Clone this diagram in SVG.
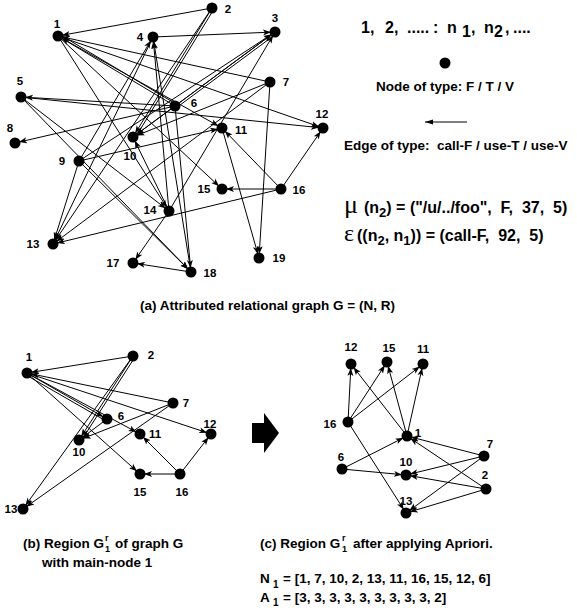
<svg xmlns="http://www.w3.org/2000/svg" width="577" height="608" viewBox="0 0 577 608">
<style>
.e{stroke:#000;stroke-width:1;fill:none;marker-end:url(#ah)}
.p{stroke:#000;stroke-width:1;fill:none}
.n{fill:#000}
.l{font-family:"Liberation Sans",Arial,sans-serif;font-weight:bold;font-size:11.5px;fill:#000;text-anchor:middle}
.t{font-family:"Liberation Sans",Arial,sans-serif;font-weight:bold;font-size:13.5px;fill:#000}
.h{font-family:"Liberation Sans",Arial,sans-serif;font-weight:bold;font-size:16px;fill:#000}
</style>
<defs>
<marker id="ah" markerUnits="userSpaceOnUse" markerWidth="14" markerHeight="8" refX="12" refY="4" orient="auto"><path d="M0,1 L8,4 L0,7 L2,4 z" fill="#000"/></marker>
<marker id="ah0" markerUnits="userSpaceOnUse" markerWidth="10" markerHeight="8" refX="8" refY="4" orient="auto"><path d="M0,1.5 L8,4 L0,6.5 z" fill="#000"/></marker>
</defs>
<rect width="577" height="608" fill="#fff"/>

<g id="connectors-a">
<line class="e" x1="212" y1="8" x2="58" y2="36"/>
<line class="e" x1="270" y1="82" x2="58" y2="36"/>
<line class="e" x1="175" y1="106" x2="58" y2="36"/>
<line class="p" x1="176" y1="104" x2="59" y2="34"/>
<line class="e" x1="58" y1="36" x2="323" y2="128"/>
<line class="e" x1="58" y1="36" x2="222" y2="128"/>
<line class="e" x1="58" y1="36" x2="222" y2="189"/>
<line class="e" x1="58" y1="36" x2="169" y2="211"/>
<line class="e" x1="153" y1="37" x2="275" y2="32"/>
<line class="e" x1="175" y1="106" x2="275" y2="32"/>
<line class="p" x1="176" y1="108" x2="276" y2="34"/>
<line class="e" x1="79" y1="161" x2="275" y2="32"/>
<line class="e" x1="169" y1="211" x2="275" y2="32"/>
<line class="e" x1="175" y1="106" x2="21" y2="97"/>
<line class="e" x1="21" y1="97" x2="323" y2="128"/>
<line class="e" x1="21" y1="97" x2="169" y2="211"/>
<line class="e" x1="21" y1="97" x2="191" y2="272"/>
<line class="e" x1="175" y1="106" x2="15" y2="143"/>
<line class="e" x1="79" y1="161" x2="153" y2="37"/>
<line class="e" x1="169" y1="211" x2="153" y2="37"/>
<line class="e" x1="191" y1="272" x2="153" y2="37"/>
<line class="e" x1="153" y1="37" x2="53" y2="244"/>
<line class="e" x1="212" y1="8" x2="133" y2="137"/>
<line class="p" x1="214" y1="9" x2="135" y2="138"/>
<line class="e" x1="275" y1="32" x2="133" y2="137"/>
<line class="e" x1="270" y1="82" x2="133" y2="137"/>
<line class="e" x1="175" y1="106" x2="133" y2="137"/>
<line class="e" x1="169" y1="211" x2="133" y2="137"/>
<line class="e" x1="79" y1="161" x2="222" y2="128"/>
<line class="e" x1="281" y1="189" x2="222" y2="128"/>
<line class="e" x1="222" y1="128" x2="259" y2="258"/>
<line class="e" x1="270" y1="82" x2="259" y2="258"/>
<line class="e" x1="281" y1="189" x2="323" y2="128"/>
<line class="e" x1="281" y1="189" x2="222" y2="189"/>
<line class="e" x1="281" y1="189" x2="53" y2="244"/>
<line class="e" x1="79" y1="161" x2="53" y2="244"/>
<line class="e" x1="212" y1="8" x2="53" y2="244"/>
<line class="e" x1="270" y1="82" x2="53" y2="244"/>
<line class="e" x1="169" y1="211" x2="133" y2="263"/>
<line class="e" x1="191" y1="272" x2="133" y2="263"/>
<line class="e" x1="79" y1="161" x2="191" y2="272"/>
<line class="e" x1="175" y1="106" x2="191" y2="272"/>
</g>

<g id="nodes-a">
<g id="a1"><circle class="n" cx="58" cy="36" r="5.5"/><text class="l" x="57" y="28">1</text></g>
<g id="a2"><circle class="n" cx="212" cy="8" r="5.5"/><text class="l" x="228" y="13">2</text></g>
<g id="a3"><circle class="n" cx="275" cy="32" r="5.5"/><text class="l" x="275" y="22">3</text></g>
<g id="a4"><circle class="n" cx="153" cy="37" r="5.5"/><text class="l" x="140" y="41">4</text></g>
<g id="a5"><circle class="n" cx="21" cy="97" r="5.5"/><text class="l" x="20" y="85">5</text></g>
<g id="a6"><circle class="n" cx="175" cy="106" r="5.5"/><text class="l" x="194" y="107">6</text></g>
<g id="a7"><circle class="n" cx="270" cy="82" r="5.5"/><text class="l" x="286" y="86">7</text></g>
<g id="a8"><circle class="n" cx="15" cy="143" r="5.5"/><text class="l" x="10" y="132">8</text></g>
<g id="a9"><circle class="n" cx="79" cy="161" r="5.5"/><text class="l" x="62" y="165">9</text></g>
<g id="a10"><circle class="n" cx="133" cy="137" r="5.5"/><text class="l" x="130" y="160">10</text></g>
<g id="a11"><circle class="n" cx="222" cy="128" r="5.5"/><text class="l" x="241" y="134">11</text></g>
<g id="a12"><circle class="n" cx="323" cy="128" r="5.5"/><text class="l" x="322" y="118">12</text></g>
<g id="a13"><circle class="n" cx="53" cy="244" r="5.5"/><text class="l" x="33" y="248">13</text></g>
<g id="a14"><circle class="n" cx="169" cy="211" r="5.5"/><text class="l" x="150" y="214">14</text></g>
<g id="a15"><circle class="n" cx="222" cy="189" r="5.5"/><text class="l" x="204" y="193">15</text></g>
<g id="a16"><circle class="n" cx="281" cy="189" r="5.5"/><text class="l" x="299" y="194">16</text></g>
<g id="a17"><circle class="n" cx="133" cy="263" r="5.5"/><text class="l" x="113" y="267">17</text></g>
<g id="a18"><circle class="n" cx="191" cy="272" r="5.5"/><text class="l" x="210" y="277">18</text></g>
<g id="a19"><circle class="n" cx="259" cy="258" r="5.5"/><text class="l" x="279" y="262">19</text></g>
</g>

<g id="legend">
<text class="h" y="33" font-size="15"><tspan x="361">1,</tspan><tspan x="385">2,</tspan><tspan x="407">.....</tspan><tspan x="433">:</tspan><tspan x="447">n</tspan><tspan x="462" y="37">1</tspan><tspan x="471" y="33">,</tspan><tspan x="484">n</tspan><tspan x="494" y="37">2</tspan><tspan x="505" y="33">,</tspan><tspan x="513">....</tspan></text>
<circle class="n" cx="445" cy="63" r="5.5"/>
<text class="t" x="376" y="90.5">Node of type: F / T / V</text>
<line class="p" x1="467" y1="122" x2="425" y2="122" marker-end="url(#ah0)"/>
<text class="t" x="344" y="150" xml:space="preserve">Edge of type:  call-F / use-T / use-V</text>
<text x="344" y="213" font-family="'Liberation Serif','DejaVu Serif',serif" font-size="26" fill="#000">μ</text>
<text class="h" x="364" y="213" xml:space="preserve">(n<tspan font-size="13" y="217">2</tspan><tspan y="213">) = ("/u/../foo",  F,  37,  5)</tspan></text>
<text x="344" y="241" font-family="'Liberation Serif','DejaVu Serif',serif" font-size="24" fill="#000">ε</text>
<text class="h" x="357" y="241" xml:space="preserve">((n<tspan font-size="13" y="245">2</tspan><tspan y="241">, n</tspan><tspan font-size="13" y="245">1</tspan><tspan y="241">)) = (call-F,  92,  5)</tspan></text>
<text class="t" x="140" y="310">(a) Attributed relational graph G = (N, R)</text>
</g>

<g id="connectors-b">
<line class="e" x1="133" y1="356" x2="27" y2="373"/>
<line class="e" x1="173" y1="403" x2="27" y2="373"/>
<line class="e" x1="27" y1="373" x2="211" y2="434"/>
<line class="e" x1="27" y1="373" x2="107" y2="419"/>
<line class="p" x1="26" y1="375" x2="106" y2="421"/>
<line class="e" x1="27" y1="373" x2="140" y2="434"/>
<line class="e" x1="27" y1="373" x2="140" y2="474"/>
<line class="e" x1="133" y1="356" x2="79" y2="440"/>
<line class="p" x1="135" y1="357" x2="81" y2="441"/>
<line class="e" x1="133" y1="356" x2="23" y2="509"/>
<line class="e" x1="173" y1="403" x2="79" y2="440"/>
<line class="e" x1="173" y1="403" x2="23" y2="509"/>
<line class="e" x1="107" y1="419" x2="79" y2="440"/>
<line class="e" x1="180" y1="474" x2="140" y2="474"/>
<line class="e" x1="180" y1="474" x2="140" y2="434"/>
<line class="e" x1="180" y1="474" x2="211" y2="434"/>
</g>

<g id="nodes-b">
<g id="b1"><circle class="n" cx="27" cy="373" r="5.5"/><text class="l" x="29" y="361">1</text></g>
<g id="b2"><circle class="n" cx="133" cy="356" r="5.5"/><text class="l" x="151" y="359">2</text></g>
<g id="b7"><circle class="n" cx="173" cy="403" r="5.5"/><text class="l" x="186" y="407">7</text></g>
<g id="b6"><circle class="n" cx="107" cy="419" r="5.5"/><text class="l" x="121" y="420">6</text></g>
<g id="b11"><circle class="n" cx="140" cy="434" r="5.5"/><text class="l" x="155" y="438">11</text></g>
<g id="b10"><circle class="n" cx="79" cy="440" r="5.5"/><text class="l" x="79" y="456">10</text></g>
<g id="b12"><circle class="n" cx="211" cy="434" r="5.5"/><text class="l" x="210" y="428">12</text></g>
<g id="b15"><circle class="n" cx="140" cy="474" r="5.5"/><text class="l" x="140" y="496">15</text></g>
<g id="b16"><circle class="n" cx="180" cy="474" r="5.5"/><text class="l" x="182" y="496">16</text></g>
<g id="b13"><circle class="n" cx="23" cy="509" r="5.5"/><text class="l" x="11" y="513">13</text></g>
</g>

<g id="bigarrow"><polygon points="252,423 264,423 264,413 279,433 264,453 264,443 252,443" fill="#000"/></g>

<g id="connectors-c">
<line class="e" x1="348" y1="422" x2="351" y2="364"/>
<line class="e" x1="348" y1="422" x2="387" y2="362"/>
<line class="e" x1="348" y1="422" x2="423" y2="364"/>
<line class="e" x1="348" y1="422" x2="406" y2="513"/>
<line class="e" x1="407" y1="436" x2="351" y2="364"/>
<line class="e" x1="407" y1="436" x2="387" y2="362"/>
<line class="e" x1="407" y1="436" x2="423" y2="364"/>
<line class="e" x1="342" y1="469" x2="407" y2="436"/>
<line class="e" x1="484" y1="456" x2="407" y2="436"/>
<line class="e" x1="486" y1="489" x2="407" y2="436"/>
<line class="e" x1="342" y1="469" x2="406" y2="475"/>
<line class="e" x1="484" y1="456" x2="406" y2="475"/>
<line class="e" x1="486" y1="489" x2="406" y2="475"/>
<line class="e" x1="484" y1="456" x2="406" y2="513"/>
<line class="e" x1="486" y1="489" x2="406" y2="513"/>
</g>

<g id="nodes-c">
<g id="c12"><circle class="n" cx="351" cy="364" r="5.5"/><text class="l" x="351" y="351">12</text></g>
<g id="c15"><circle class="n" cx="387" cy="362" r="5.5"/><text class="l" x="389" y="352">15</text></g>
<g id="c11"><circle class="n" cx="423" cy="364" r="5.5"/><text class="l" x="423" y="353">11</text></g>
<g id="c16"><circle class="n" cx="348" cy="422" r="5.5"/><text class="l" x="330" y="428">16</text></g>
<g id="c1"><circle class="n" cx="407" cy="436" r="5.5"/><text class="l" x="418" y="437">1</text></g>
<g id="c7"><circle class="n" cx="484" cy="456" r="5.5"/><text class="l" x="490" y="448">7</text></g>
<g id="c6"><circle class="n" cx="342" cy="469" r="5.5"/><text class="l" x="341" y="461">6</text></g>
<g id="c10"><circle class="n" cx="406" cy="475" r="5.5"/><text class="l" x="406" y="466">10</text></g>
<g id="c2"><circle class="n" cx="486" cy="489" r="5.5"/><text class="l" x="485" y="479">2</text></g>
<g id="c13"><circle class="n" cx="406" cy="513" r="5.5"/><text class="l" x="406" y="505">13</text></g>
</g>

<g id="captions">
<text class="t" x="23" y="548">(b) Region G<tspan font-size="9" x="105" y="541">r</tspan><tspan font-size="9" x="105" y="552">1</tspan><tspan x="115" y="548">of graph G</tspan></text>
<text class="t" x="42" y="567">with main-node 1</text>
<text class="t" x="260" y="548">(c) Region G<tspan font-size="9" x="342" y="541">r</tspan><tspan font-size="9" x="342" y="552">1</tspan><tspan x="353" y="548">after applying Apriori.</tspan></text>
<text class="t" x="260" y="583">N<tspan font-size="10" x="273" y="588">1</tspan><tspan x="283" y="583">= [1, 7, 10, 2, 13, 11, 16, 15, 12, 6]</tspan></text>
<text class="t" x="260" y="602">A<tspan font-size="10" x="273" y="606">1</tspan><tspan x="283" y="602">= [3, 3, 3, 3, 3, 3, 3, 3, 3, 2]</tspan></text>
</g>
</svg>
